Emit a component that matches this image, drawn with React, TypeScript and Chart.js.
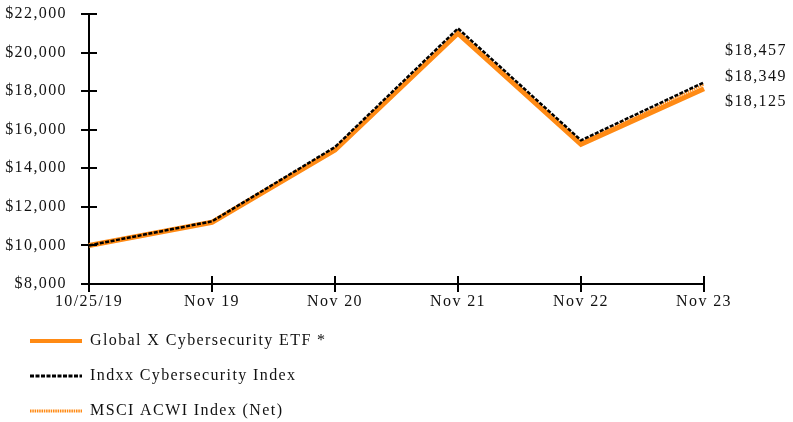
import React, { useEffect, useRef } from "react";
import { Chart, registerables } from "chart.js";

Chart.register(...registerables);

const categories = ["10/25/19", "Nov 19", "Nov 20", "Nov 21", "Nov 22", "Nov 23"];
const etfValues = [10000, 11200, 14950, 21000, 15250, 18125];
const indxxValues = [10000, 11250, 15100, 21250, 15450, 18457];
const msciValues = [10000, 11220, 15020, 21100, 15330, 18349];
const seriesNames = ["Global X Cybersecurity ETF *", "Indxx Cybersecurity Index", "MSCI ACWI Index (Net)"];

const ORANGE = "#FF8A14";
const FONT = "'Liberation Serif', 'Times New Roman', serif";
const FONT_SIZE = 16;
const LETTER_SPACING = "1.4px";

const fmt = (v: number) => "$" + v.toLocaleString("en-US");

export default function App() {
  const ref = useRef<HTMLCanvasElement | null>(null);

  useEffect(() => {
    document.body.style.margin = "0";
    const canvas = ref.current!;
    const spacing = {
      id: "spacing",
      beforeInit(chart: any) {
        chart.ctx.letterSpacing = LETTER_SPACING;
      },
      beforeUpdate(chart: any) {
        chart.ctx.letterSpacing = LETTER_SPACING;
      },
      beforeLayout(chart: any) {
        chart.ctx.letterSpacing = LETTER_SPACING;
      },
      beforeDraw(chart: any) {
        chart.ctx.letterSpacing = LETTER_SPACING;
      },
    };
    const overlay = {
      id: "overlay",
      afterDraw(chart: any) {
        const ctx = chart.ctx;
        const area = chart.chartArea;
        const xs = chart.scales.x;
        const ys = chart.scales.y;
        ctx.save();
        ctx.letterSpacing = LETTER_SPACING;
        ctx.strokeStyle = "#000";
        ctx.lineWidth = 2;
        ys.ticks.forEach((_t: any, i: number) => {
          const y = Math.round(ys.getPixelForTick(i));
          ctx.beginPath();
          ctx.moveTo(area.left, y);
          ctx.lineTo(area.left + 8, y);
          ctx.stroke();
        });
        xs.ticks.forEach((_t: any, i: number) => {
          const x = Math.round(xs.getPixelForTick(i));
          ctx.beginPath();
          ctx.moveTo(x, area.bottom);
          ctx.lineTo(x, area.bottom - 8);
          ctx.stroke();
        });
        const ends = [
          indxxValues[indxxValues.length - 1],
          msciValues[msciValues.length - 1],
          etfValues[etfValues.length - 1],
        ].sort((a, b) => b - a);
        ctx.fillStyle = "#111";
        ctx.font = `${FONT_SIZE}px ${FONT}`;
        ctx.textAlign = "left";
        ctx.textBaseline = "middle";
        const endY = [51, 77, 102];
        ends.forEach((v, i) => ctx.fillText(fmt(v), 725, endY[i]));
        const legY = [341, 376, 411];
        ctx.setLineDash([]);
        ctx.strokeStyle = ORANGE;
        ctx.lineWidth = 4;
        ctx.beginPath();
        ctx.moveTo(30, legY[0]);
        ctx.lineTo(82, legY[0]);
        ctx.stroke();
        ctx.strokeStyle = "#000";
        ctx.lineWidth = 3;
        ctx.setLineDash([4, 1.5]);
        ctx.beginPath();
        ctx.moveTo(30, legY[1]);
        ctx.lineTo(82, legY[1]);
        ctx.stroke();
        ctx.strokeStyle = ORANGE;
        ctx.lineWidth = 3;
        ctx.setLineDash([1.5, 0.8]);
        ctx.beginPath();
        ctx.moveTo(30, legY[2]);
        ctx.lineTo(82, legY[2]);
        ctx.stroke();
        ctx.setLineDash([]);
        ctx.fillStyle = "#111";
        seriesNames.forEach((n, i) => ctx.fillText(n, 90, legY[i]));
        ctx.restore();
      },
    };

    const chart = new Chart(canvas, {
      type: "line",
      data: {
        labels: categories,
        datasets: [
          {
            label: seriesNames[1],
            data: indxxValues,
            borderColor: "#000",
            borderWidth: 2.5,
            borderDash: [4, 1.5],
            pointRadius: 0,
            tension: 0,
            order: 0,
          },
          {
            label: seriesNames[2],
            data: msciValues,
            borderColor: ORANGE,
            borderWidth: 2,
            borderDash: [1.5, 0.8],
            pointRadius: 0,
            tension: 0,
            order: 1,
          },
          {
            label: seriesNames[0],
            data: etfValues,
            borderColor: ORANGE,
            borderWidth: 5,
            pointRadius: 0,
            tension: 0,
            order: 2,
          },
        ],
      },
      options: {
        animation: false,
        responsive: false,
        maintainAspectRatio: false,
        layout: { padding: { top: 14, right: 89, bottom: 108, left: 0 } },
        plugins: { legend: { display: false }, tooltip: { enabled: false } },
        scales: {
          x: {
            offset: false,
            grid: { drawOnChartArea: false, tickLength: 8, color: "#000", lineWidth: 2 },
            border: { color: "#000", width: 2 },
            ticks: { color: "#111", font: { family: FONT, size: FONT_SIZE }, padding: 0, maxRotation: 0, autoSkip: false },
            afterFit: (s: any) => {
              s.height = 30;
              s.paddingLeft = 0;
              s.paddingRight = 0;
            },
          },
          y: {
            min: 8000,
            max: 22000,
            grid: { drawOnChartArea: false, tickLength: 8, color: "#000", lineWidth: 2 },
            border: { color: "#000", width: 2 },
            ticks: {
              stepSize: 2000,
              color: "#111",
              font: { family: FONT, size: FONT_SIZE },
              padding: 14,
              callback: (v: any) => fmt(Number(v)),
            },
            afterFit: (s: any) => {
              s.width = 89;
              s.paddingTop = 0;
              s.paddingBottom = 0;
            },
          },
        },
      },
      plugins: [spacing, overlay],
    });
    return () => chart.destroy();
  }, []);

  return (
    <div style={{ position: "fixed", left: 0, top: 0, width: 793, height: 422 }}>
      <canvas ref={ref} width={793} height={422} style={{ width: 793, height: 422, display: "block" }} />
    </div>
  );
}
